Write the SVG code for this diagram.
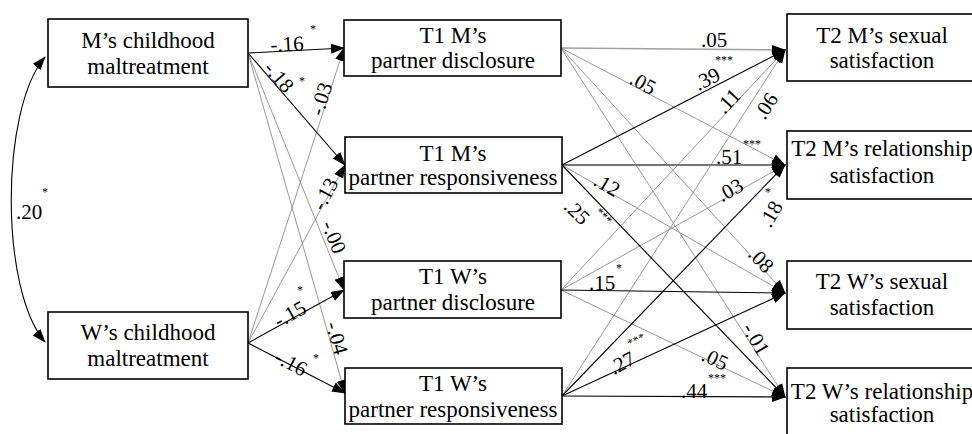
<svg xmlns="http://www.w3.org/2000/svg" width="972" height="434" viewBox="0 0 972 434">
<style>
.box{fill:#fff;stroke:#000;stroke-width:1.6}
.t{font-family:"Liberation Serif","Times New Roman",serif;font-size:23px;fill:#000;text-anchor:middle}
.lb{font-family:"Liberation Serif","Times New Roman",serif;font-size:21px;fill:#000;text-anchor:middle}
.st{font-family:"Liberation Serif","Times New Roman",serif;font-size:12px;fill:#000;text-anchor:middle}
.blk{stroke:#000;stroke-width:1.1;fill:none;marker-end:url(#ah)}
.gry{stroke:#8c8c8c;stroke-width:0.9;fill:none;marker-end:url(#ah)}
.dg{stroke:#777;stroke-width:2;fill:none;marker-end:url(#ah)}
.lg{stroke:#a0a0a0;stroke-width:1.6;fill:none;marker-end:url(#ah)}
</style>
<defs>
<marker id="ah" markerUnits="userSpaceOnUse" markerWidth="14" markerHeight="12" viewBox="0 0 14 12" refX="13" refY="6" orient="auto-start-reverse">
<path d="M0,1 L14,6 L0,11 Z" fill="#000"/>
</marker>
</defs>
<rect width="972" height="434" fill="#fff"/>

<g id="connectors">
<path class="blk" d="M45,57 C0,110 0,290 45,342" marker-start="url(#ah)"/>
<!-- left to middle -->
<line class="gry" x1="248" y1="343" x2="344" y2="48"/>
<line class="gry" x1="248" y1="343" x2="345" y2="165"/>
<line class="gry" x1="248" y1="53" x2="344" y2="290"/>
<line class="gry" x1="248" y1="53" x2="345" y2="393"/>
<line class="blk" x1="248" y1="53" x2="344" y2="48"/>
<line class="blk" x1="248" y1="53" x2="345" y2="165"/>
<line class="blk" x1="248" y1="343" x2="344" y2="290"/>
<line class="blk" x1="248" y1="343" x2="345" y2="393"/>
<!-- middle to right: gray -->
<line class="lg" x1="561" y1="48" x2="785" y2="50"/>
<line class="gry" x1="561" y1="48" x2="785" y2="165"/>
<line class="gry" x1="561" y1="48" x2="785" y2="293"/>
<line class="gry" x1="561" y1="48" x2="785" y2="397"/>
<line class="gry" x1="562" y1="165" x2="785" y2="293"/>
<line class="gry" x1="561" y1="290" x2="785" y2="50"/>
<line class="gry" x1="561" y1="290" x2="785" y2="165"/>
<line class="gry" x1="561" y1="290" x2="785" y2="397"/>
<line class="gry" x1="562" y1="396" x2="785" y2="50"/>
<line class="dg" x1="562" y1="165" x2="785" y2="165"/>
<!-- middle to right: black -->
<line class="blk" x1="562" y1="165" x2="785" y2="50"/>
<line class="blk" x1="562" y1="165" x2="785" y2="397"/>
<line class="blk" x1="561" y1="290" x2="785" y2="293"/>
<line class="blk" x1="562" y1="396" x2="785" y2="165"/>
<line class="blk" x1="562" y1="396" x2="785" y2="293"/>
<line class="blk" x1="562" y1="396" x2="785" y2="397"/>
</g>

<g id="labels">
<text class="lb" x="29" y="219">.20</text><text class="st" x="45" y="196">*</text>
<text class="lb" transform="translate(287,44) rotate(-3)" y="7">-.16</text><text class="st" x="313" y="33">*</text>
<text class="lb" transform="translate(279,77) rotate(49)" y="7">-.18</text><text class="st" x="302" y="85">*</text>
<text class="lb" transform="translate(321,99) rotate(-72)" y="7">-.03</text>
<text class="lb" transform="translate(325,194) rotate(-62)" y="7">-.13</text>
<text class="lb" transform="translate(334,237) rotate(68)" y="7">-.00</text>
<text class="lb" transform="translate(337,338) rotate(74)" y="7">-.04</text>
<text class="lb" transform="translate(290,314) rotate(-29)" y="7">-.15</text><text class="st" x="300" y="294">*</text>
<text class="lb" transform="translate(291,363) rotate(28)" y="7">-.16</text><text class="st" x="316" y="362">*</text>

<text class="lb" x="714" y="47">.05</text>
<text class="st" x="724" y="64">***</text>
<text class="lb" transform="translate(707,79) rotate(-27)" y="7">.39</text>
<text class="lb" transform="translate(643,83) rotate(28)" y="7">.05</text>
<text class="lb" transform="translate(728,101) rotate(-47)" y="7">.11</text>
<text class="lb" transform="translate(766,106) rotate(-57)" y="7">.06</text>
<text class="st" x="752" y="148">***</text>
<text class="lb" x="729" y="164">.51</text>
<text class="lb" transform="translate(730,190) rotate(-29)" y="7">.03</text>
<text class="lb" transform="translate(771,214) rotate(-60)" y="7">.18</text><text class="st" x="768" y="196">*</text>
<text class="lb" transform="translate(761,260) rotate(47)" y="7">.08</text>
<text class="lb" transform="translate(607,185) rotate(30)" y="7">.12</text>
<text class="lb" transform="translate(577,212) rotate(45)" y="7">.25</text>
<text class="st" transform="translate(604,216) rotate(45)" y="4">***</text>
<text class="lb" x="602" y="290">.15</text><text class="st" x="619" y="272">*</text>
<text class="lb" transform="translate(622,363) rotate(-28)" y="7">.27</text>
<text class="st" transform="translate(636,340) rotate(-25)" y="4">***</text>
<text class="lb" transform="translate(715,359) rotate(25)" y="7">.05</text>
<text class="st" x="717" y="382">***</text>
<text class="lb" transform="translate(756,339) rotate(60)" y="7">-.01</text>
<text class="lb" x="694" y="398">.44</text>
</g>

<g id="m-childhood"><rect class="box" x="48" y="19" width="200" height="68"/><text class="t" x="148" y="48">M’s childhood</text><text class="t" x="148" y="74">maltreatment</text></g>
<g id="w-childhood"><rect class="box" x="48" y="312" width="200" height="67"/><text class="t" x="148" y="340">W’s childhood</text><text class="t" x="148" y="366">maltreatment</text></g>

<g id="t1-m-disclosure"><rect class="box" x="344" y="20" width="217" height="56"/><text class="t" x="453" y="43">T1 M’s</text><text class="t" x="453" y="68">partner disclosure</text></g>
<g id="t1-m-responsiveness"><rect class="box" x="345" y="137" width="217" height="56"/><text class="t" x="453" y="161">T1 M’s</text><text class="t" x="453" y="185">partner responsiveness</text></g>
<g id="t1-w-disclosure"><rect class="box" x="344" y="261" width="217" height="57"/><text class="t" x="453" y="284">T1 W’s</text><text class="t" x="453" y="310">partner disclosure</text></g>
<g id="t1-w-responsiveness"><rect class="box" x="345" y="368" width="217" height="56"/><text class="t" x="453" y="391">T1 W’s</text><text class="t" x="453" y="417">partner responsiveness</text></g>

<g id="t2-m-sexual"><rect class="box" x="787" y="14" width="200" height="67"/><text class="t" x="882" y="43">T2 M’s sexual</text><text class="t" x="882" y="68">satisfaction</text></g>
<g id="t2-m-relationship"><rect class="box" x="787" y="131" width="200" height="68"/><text class="t" x="882" y="156">T2 M’s relationship</text><text class="t" x="882" y="183">satisfaction</text></g>
<g id="t2-w-sexual"><rect class="box" x="787" y="261" width="200" height="68"/><text class="t" x="882" y="289">T2 W’s sexual</text><text class="t" x="882" y="315">satisfaction</text></g>
<g id="t2-w-relationship"><rect class="box" x="787" y="368" width="200" height="68"/><text class="t" x="882" y="399">T2 W’s relationship</text><text class="t" x="882" y="422">satisfaction</text></g>
</svg>
